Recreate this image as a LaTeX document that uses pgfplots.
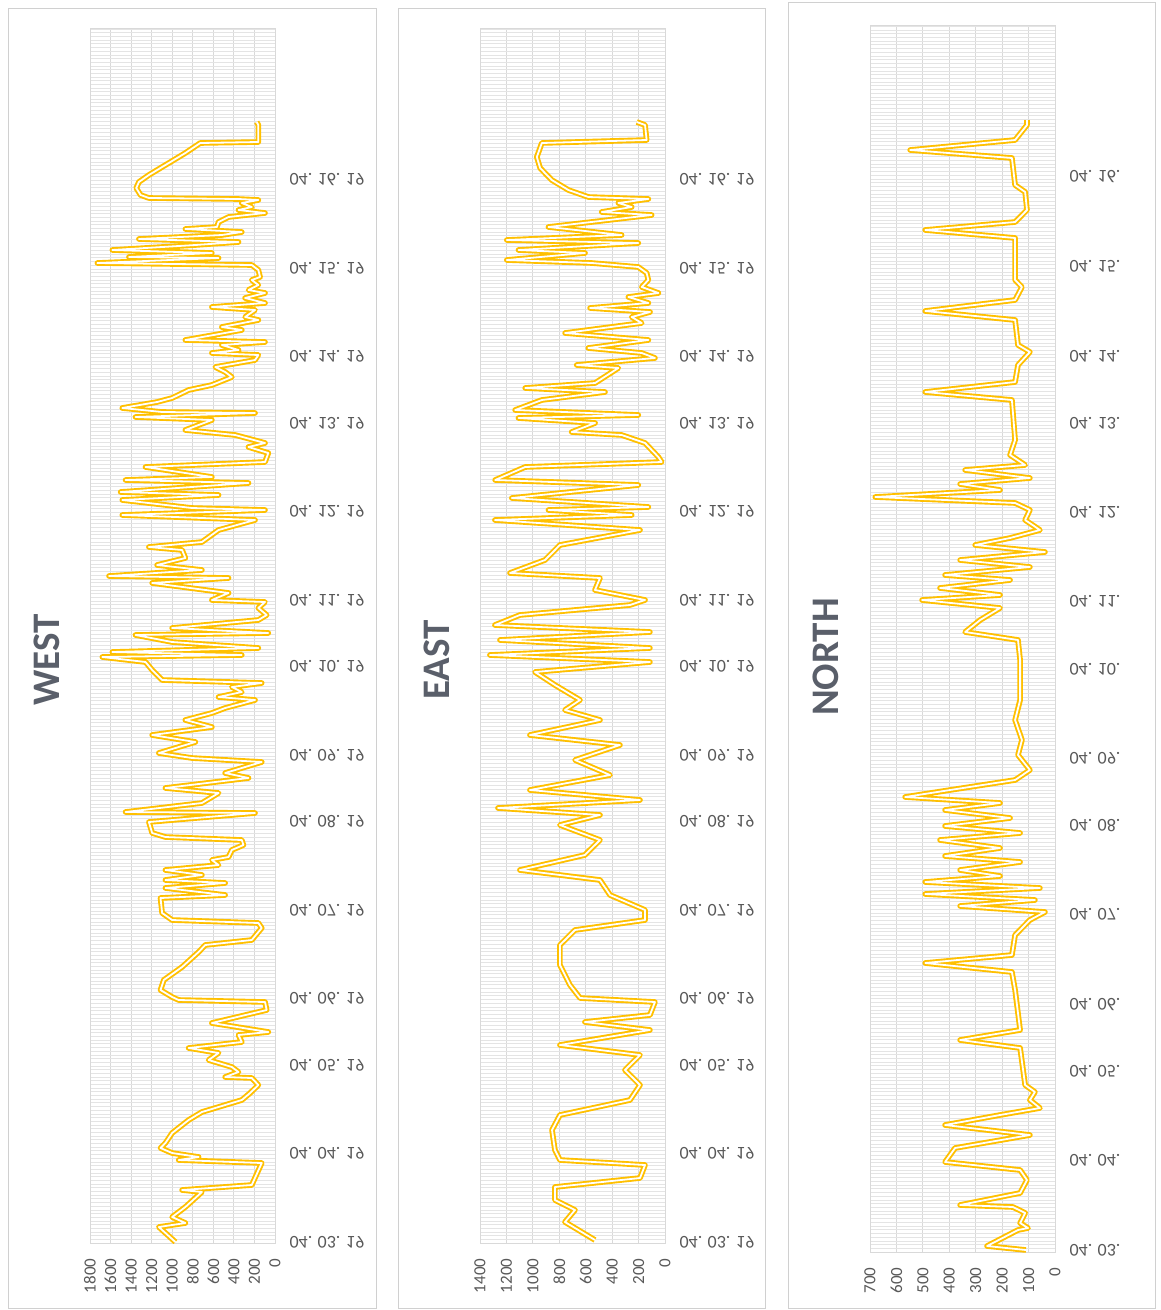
\documentclass[border=0pt]{standalone}
\usepackage{fontspec}
\setmainfont{Carlito}
\usepackage{pgfplots}
\pgfplotsset{compat=1.18}
\usepackage{pgfplotstable}
\definecolor{lineY}{HTML}{FFC000}
\definecolor{txt}{HTML}{595959}
\definecolor{ttl}{HTML}{5A5F6A}
\definecolor{gmaj}{HTML}{D9D9D9}
\definecolor{gmin}{HTML}{E4E4E4}
\definecolor{frame}{HTML}{D0D0D0}

\pgfplotstableread{
v y
178 1121
162 1118
162 1101
727 1100
872 1090
1017 1081
1066 1078
1227 1068
1324 1061
1350 1055
1308 1048
1227 1045
355 1044
162 1043
323 1040
226 1036
355 1033
97 1030
452 1026
549 1021
565 1016
872 1014
323 1011
517 1008
1324 1004
355 1001
775 998
1583 993
614 990
1421 986
549 985
1728 980
226 978
162 973
145 966
226 963
162 958
258 953
97 950
291 945
97 940
614 936
194 933
291 926
162 923
517 916
323 913
872 903
97 901
517 898
355 893
614 890
162 888
194 883
581 876
485 871
420 866
614 858
840 853
1001 845
1147 841
1486 835
1098 831
194 830
1357 826
614 823
872 813
388 808
97 800
258 796
65 790
97 781
1260 776
614 766
1454 763
258 760
1502 751
549 748
1486 743
808 735
97 733
1486 728
194 723
549 713
711 701
1227 696
904 693
872 685
1147 678
711 673
1615 667
452 665
1195 660
452 650
614 643
97 641
162 635
81 628
162 623
1001 615
65 610
1357 608
1001 601
162 595
1583 591
323 588
1680 586
1260 581
1195 573
1098 563
129 560
420 556
323 551
549 546
194 543
485 535
614 530
872 523
614 516
1195 508
775 501
1130 490
808 485
129 481
291 476
485 470
258 465
1066 455
549 450
711 440
1454 431
194 430
1227 421
1195 410
1066 406
323 403
307 398
420 393
452 386
614 383
549 378
1066 373
711 368
1066 363
485 360
1066 355
485 348
1114 345
1098 330
1001 323
162 320
129 315
226 303
678 298
743 291
904 276
1082 263
1114 253
1001 246
937 243
97 241
81 233
614 220
65 211
355 208
323 201
840 195
549 190
646 183
420 176
355 171
485 166
226 165
162 158
242 150
323 143
711 131
840 123
1001 110
1066 100
1114 95
1001 90
872 88
743 86
937 83
129 80
226 58
904 53
711 51
872 36
1001 26
872 20
1130 16
969 1
}\west

\pgfplotstableread{
v y
214 1121
151 1118
139 1103
932 1100
970 1086
945 1075
857 1063
731 1053
580 1046
126 1044
353 1040
252 1036
479 1031
101 1028
882 1016
328 1008
1197 1003
202 1000
1109 993
605 990
1197 983
554 980
202 976
139 970
126 963
176 956
50 950
277 946
126 940
567 935
113 931
252 926
176 920
756 910
126 903
580 895
176 890
76 885
668 878
353 875
529 860
1058 855
454 851
932 843
1134 833
202 828
1109 825
529 820
706 811
328 808
151 800
50 786
25 781
1058 776
1285 763
202 758
1159 745
126 736
882 733
252 728
1287 723
189 713
795 698
908 683
1173 670
492 665
530 653
151 643
265 638
1098 628
1287 618
114 611
1249 603
114 595
1325 588
114 581
984 571
833 558
643 543
757 533
492 523
1022 508
341 498
681 483
416 468
1022 453
189 443
1264 435
492 428
795 418
492 403
606 388
1098 373
492 363
416 348
151 333
151 323
681 313
795 298
795 278
719 258
643 245
76 241
114 228
606 221
114 213
795 198
189 188
303 173
189 158
265 143
795 128
855 113
833 93
795 83
151 78
189 65
833 56
833 43
681 33
757 21
530 3
}\east

\pgfplotstableread{
v y
106 1132
106 1127
151 1112
548 1102
163 1094
151 1067
113 1060
106 1042
151 1030
491 1022
151 1014
151 972
125 965
151 952
491 941
151 932
140 907
95 900
140 887
151 870
491 860
163 852
151 812
170 797
113 787
340 782
95 774
359 768
208 762
680 755
151 749
95 742
113 732
57 722
170 714
302 707
38 700
359 692
95 685
416 677
170 672
435 664
208 657
503 652
208 644
283 632
340 620
140 612
132 592
132 552
151 532
125 512
140 497
95 482
151 472
397 462
567 455
208 449
416 442
170 434
416 426
132 419
435 412
208 404
416 396
132 390
359 382
208 376
491 370
57 364
491 358
76 352
359 346
38 340
95 332
151 317
163 297
491 289
163 280
151 262
132 222
359 212
132 204
113 167
76 160
95 152
57 144
208 137
416 127
95 117
378 104
416 90
132 82
106 72
132 59
359 47
159 45
113 39
132 29
102 24
140 22
257 6
110 2
}\north

\pgfplotsset{
  panel/.style={
    scale only axis, width=185pt,
    x dir=reverse, xmin=0, ymin=0,
    anchor=center,
    axis line style={draw=gmaj, line width=0.6pt},
    major tick length=0pt, minor tick length=0pt,
    xmajorgrids, yminorgrids,
    major grid style={gmaj, line width=0.8pt},
    minor grid style={gmin, line width=0.6pt},
    xticklabel style={rotate=90, anchor=east, font=\fontsize{17}{17}\selectfont, text=txt},
    xticklabel shift=12pt,
    yticklabel pos=right,
    yticklabel style={yscale=-1, anchor=west, font=\fontsize{18}{18}\selectfont, text=txt},
    yticklabel shift=11pt,
    /pgf/number format/assume math mode=true,
    /pgf/number format/1000 sep={},
  },
  yel/.style={lineY, line width=5.6pt, line join=round},
  wht/.style={white, line width=1.8pt, line join=round},
}

\begin{document}
\begin{tikzpicture}
\path[fill=white, use as bounding box] (0pt,0pt) rectangle (1161pt,-1310pt);
\draw[frame, line width=1pt] (8pt,-8pt) rectangle (376pt,-1308pt);
\draw[frame, line width=1pt] (398pt,-8pt) rectangle (765pt,-1308pt);
\draw[frame, line width=1pt] (788pt,-2pt) rectangle (1155pt,-1308pt);

\node[rotate=90, font=\fontsize{39}{39}\selectfont\bfseries, text=ttl] at (47pt,-660pt) {WEST};
\node[rotate=90, font=\fontsize{39}{39}\selectfont\bfseries, text=ttl] at (437pt,-660pt) {EAST};
\node[rotate=90, font=\fontsize{39}{39}\selectfont\bfseries, text=ttl] at (826pt,-657pt) {NORTH};

\begin{axis}[panel, at={(182.5pt,-635.5pt)}, height=1215pt,
  xmax=1800, xtick={0,200,...,1800}, ymax=1215,
  minor ytick={0,3.69,...,1215},
  ytick={1,89.6,178,244.5,333,421.7,488,576.6,643,731.6,820,886.6,975,1063.7},
  yticklabels={04. 03. 19,04. 04. 19,04. 05. 19,04. 06. 19,04. 07. 19,04. 08. 19,04. 09. 19,04. 10. 19,04. 11. 19,04. 12. 19,04. 13. 19,04. 14. 19,04. 15. 19,04. 16. 19}]
\addplot[yel] table[x=v,y=y]{\west};
\addplot[wht] table[x=v,y=y]{\west};
\end{axis}

\begin{axis}[panel, at={(572.5pt,-635.5pt)}, height=1215pt,
  xmax=1400, xtick={0,200,...,1400}, ymax=1215,
  minor ytick={0,3.69,...,1215},
  ytick={1,89.6,178,244.5,333,421.7,488,576.6,643,731.6,820,886.6,975,1063.7},
  yticklabels={04. 03. 19,04. 04. 19,04. 05. 19,04. 06. 19,04. 07. 19,04. 08. 19,04. 09. 19,04. 10. 19,04. 11. 19,04. 12. 19,04. 13. 19,04. 14. 19,04. 15. 19,04. 16. 19}]
\addplot[yel] table[x=v,y=y]{\east};
\addplot[wht] table[x=v,y=y]{\east};
\end{axis}

\begin{axis}[panel, at={(962.5pt,-638.5pt)}, height=1227pt,
  xmax=700, xtick={0,100,...,700}, ymax=1227,
  minor ytick={0,3.726,...,1227},
  ytick={2,91.4,180.8,247.9,337.3,426.7,493.8,583.2,650.3,739.7,829.2,896.2,985.6,1075},
  yticklabels={04. 03.,04. 04.,04. 05.,04. 06.,04. 07.,04. 08.,04. 09.,04. 10.,04. 11.,04. 12.,04. 13.,04. 14.,04. 15.,04. 16.}]
\addplot[yel] table[x=v,y=y]{\north};
\addplot[wht] table[x=v,y=y]{\north};
\end{axis}
\end{tikzpicture}
\end{document}
